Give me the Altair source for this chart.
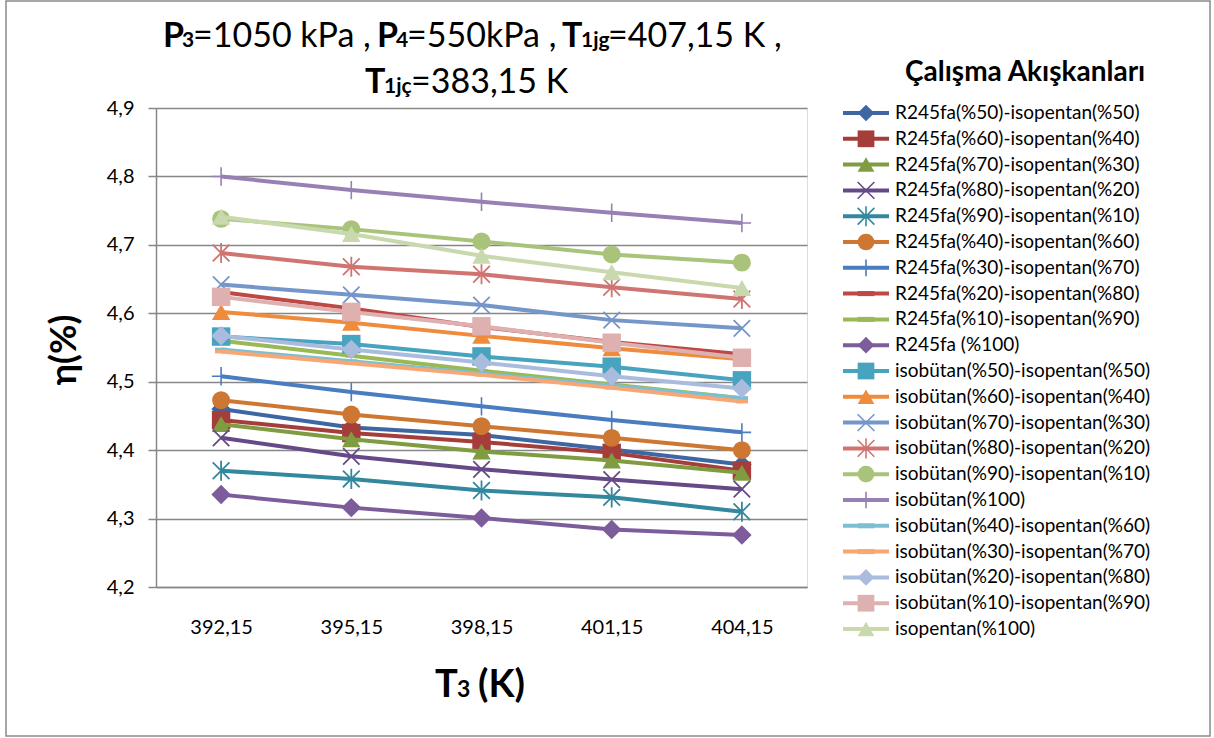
import altair as alt
import pandas as pd

# Evaporator outlet temperatures (category labels on the x axis)
T3_LABELS = ["392,15", "395,15", "398,15", "401,15", "404,15"]

# Working fluids, in legend order
FLUIDS = [
    "R245fa(%50)-isopentan(%50)",
    "R245fa(%60)-isopentan(%40)",
    "R245fa(%70)-isopentan(%30)",
    "R245fa(%80)-isopentan(%20)",
    "R245fa(%90)-isopentan(%10)",
    "R245fa(%40)-isopentan(%60)",
    "R245fa(%30)-isopentan(%70)",
    "R245fa(%20)-isopentan(%80)",
    "R245fa(%10)-isopentan(%90)",
    "R245fa (%100)",
    "isobütan(%50)-isopentan(%50)",
    "isobütan(%60)-isopentan(%40)",
    "isobütan(%70)-isopentan(%30)",
    "isobütan(%80)-isopentan(%20)",
    "isobütan(%90)-isopentan(%10)",
    "isobütan(%100)",
    "isobütan(%40)-isopentan(%60)",
    "isobütan(%30)-isopentan(%70)",
    "isobütan(%20)-isopentan(%80)",
    "isobütan(%10)-isopentan(%90)",
    "isopentan(%100)",
]

# Efficiency η (%) for each fluid at the five temperatures
ETA = [
    [4.460, 4.433, 4.422, 4.401, 4.379],
    [4.444, 4.425, 4.412, 4.396, 4.370],
    [4.438, 4.416, 4.398, 4.385, 4.367],
    [4.418, 4.391, 4.372, 4.357, 4.343],
    [4.370, 4.358, 4.341, 4.331, 4.310],
    [4.473, 4.452, 4.435, 4.418, 4.400],
    [4.508, 4.485, 4.464, 4.444, 4.426],
    [4.631, 4.607, 4.580, 4.558, 4.540],
    [4.560, 4.538, 4.516, 4.496, 4.476],
    [4.335, 4.316, 4.301, 4.284, 4.276],
    [4.566, 4.555, 4.537, 4.522, 4.502],
    [4.602, 4.586, 4.567, 4.549, 4.533],
    [4.642, 4.627, 4.612, 4.590, 4.578],
    [4.688, 4.668, 4.657, 4.638, 4.621],
    [4.738, 4.723, 4.705, 4.686, 4.674],
    [4.800, 4.780, 4.763, 4.747, 4.732],
    [4.547, 4.530, 4.512, 4.494, 4.476],
    [4.544, 4.527, 4.510, 4.491, 4.471],
    [4.567, 4.547, 4.528, 4.508, 4.490],
    [4.624, 4.602, 4.581, 4.557, 4.535],
    [4.741, 4.716, 4.684, 4.660, 4.637],
]

COLORS = [
    "#3d66a3", "#a53d3a", "#7f9c41", "#664a87", "#33889e", "#cd7733", "#4a7cc0",
    "#bd4845", "#98b954", "#7d5c9c", "#48a3be", "#ef8b3d", "#7596c8", "#d07472",
    "#a9c47a", "#9780b3", "#7cbfd2", "#f8a673", "#aabcdd", "#deb1b0", "#c9d9ae",
]

MARKERS = [
    "diamond", "square", "triangle", "x", "asterisk", "circle", "plus", "dash",
    "dash", "diamond", "square", "triangle", "x", "asterisk", "circle", "plus",
    "dash", "dash", "diamond", "square", "triangle",
]

# marker style: (vega shape, filled, size, stroke width)
MARKER_STYLE = {
    "diamond": ("diamond", True, 380, 0),
    "square": ("square", True, 340, 0),
    "triangle": ("triangle-up", True, 340, 0),
    "circle": ("circle", True, 320, 0),
    "x": ("M-1,-1L1,1M-1,1L1,-1", False, 270, 1.8),
    "asterisk": ("M-1,-1L1,1M-1,1L1,-1M0,-1.2L0,1.2", False, 280, 1.8),
    "plus": ("M0,-1L0,1M-1,0L1,0", False, 340, 1.6),
    "dash": ("M-1,-0.3L1,-0.3L1,0.3L-1,0.3Z", True, 150, 0),
}

FONT = "Lato"
GRID = "#878787"
W, H = 651, 479

rows = []
for i, name in enumerate(FLUIDS):
    for t, v in zip(T3_LABELS, ETA[i]):
        rows.append({"fluid": name, "T3": t, "eta": v})
df = pd.DataFrame(rows)

x_enc = alt.X(
    "T3:N", sort=T3_LABELS,
    scale=alt.Scale(type="point", padding=0.5),
    axis=alt.Axis(title=None, ticks=False, labelAngle=0, labelPadding=30,
                  labelFont=FONT, labelFontSize=20, labelColor="#000",
                  domainColor=GRID, domainWidth=1.5, grid=False),
)
y_enc = alt.Y(
    "eta:Q",
    scale=alt.Scale(domain=[4.2, 4.9], nice=False, zero=False),
    axis=alt.Axis(title=None, values=[4.2, 4.3, 4.4, 4.5, 4.6, 4.7, 4.8, 4.9],
                  labelExpr="replace(format(datum.value, '.1f'), '.', ',')",
                  labelFont=FONT, labelFontSize=20, labelColor="#000", labelPadding=14,
                  tickSize=8, tickColor=GRID, tickWidth=1.5,
                  domainColor=GRID, domainWidth=1.5,
                  grid=True, gridColor=GRID, gridWidth=1.5),
)

plot_layers = []
for i, name in enumerate(FLUIDS):
    base = alt.Chart(df).transform_filter(alt.datum.fluid == name)
    plot_layers.append(
        base.mark_line(color=COLORS[i], strokeWidth=4).encode(x=x_enc, y=y_enc)
    )
    shape, filled, size, sw = MARKER_STYLE[MARKERS[i]]
    plot_layers.append(
        base.mark_point(shape=shape, filled=filled, size=size, color=COLORS[i],
                        strokeWidth=sw, opacity=1).encode(x=x_enc, y=y_enc)
    )
plot = alt.layer(*plot_layers)

# Legend: one row per fluid, line sample + marker + name
leg_df = pd.DataFrame({
    "fluid": FLUIDS,
    "marker": MARKERS,
    "filled": [MARKER_STYLE[m][1] for m in MARKERS],
})
leg_y = alt.Y("fluid:N", sort=FLUIDS,
              scale=alt.Scale(type="point", range=[5, 521], padding=0), axis=None)
leg_color = alt.Color("fluid:N", sort=FLUIDS,
                      scale=alt.Scale(domain=FLUIDS, range=COLORS), legend=None)
shape_domain = list(MARKER_STYLE.keys())
shape_range = [MARKER_STYLE[k][0] for k in shape_domain]
leg_shape = alt.Shape("marker:N", scale=alt.Scale(domain=shape_domain, range=shape_range),
                      legend=None)

leg_base = alt.Chart(leg_df)
leg_lines = leg_base.mark_rule(strokeWidth=4).encode(
    x=alt.value(687), x2=alt.value(733), y=leg_y, color=leg_color)
leg_filled = leg_base.transform_filter(alt.datum.filled == True).mark_point(
    filled=True, size=280, opacity=1).encode(
    x=alt.value(710), y=leg_y, color=leg_color, shape=leg_shape)
leg_open = leg_base.transform_filter(alt.datum.filled == False).mark_point(
    filled=False, size=280, strokeWidth=1.6, opacity=1).encode(
    x=alt.value(710), y=leg_y, color=leg_color, shape=leg_shape)
leg_text = leg_base.mark_text(align="left", baseline="middle", font=FONT,
                              fontSize=19, color="#000").encode(
    x=alt.value(739), y=leg_y, text="fluid:N")
legend = alt.layer(leg_lines, leg_filled, leg_open, leg_text)

# Title, axis titles and legend heading, built from styled text runs
runs = pd.DataFrame([
    # text, x, y, size, weight
    ("P", 7, -61, 34, "bold"),
    ("3", 26, -61, 21, "bold"),
    ("=1050 kPa , ", 37, -61, 34, "normal"),
    ("P", 221, -61, 34, "bold"),
    ("4", 240, -61, 21, "bold"),
    ("=550kPa , ", 251, -61, 34, "normal"),
    ("T", 406, -61, 34, "bold"),
    ("1jg", 425, -61, 21, "bold"),
    ("=407,15 K ,", 452, -61, 34, "normal"),
    ("T", 209, -15, 34, "bold"),
    ("1jç", 228, -15, 21, "bold"),
    ("=383,15 K", 255, -15, 34, "normal"),
    ("T", 279, 589, 38, "bold"),
    ("3", 301, 589, 23, "bold"),
    ("(K)", 322, 589, 38, "bold"),
], columns=["text", "px", "py", "size", "weight"])

text_layers = []
for _, r in runs.iterrows():
    text_layers.append(
        alt.Chart(pd.DataFrame({"text": [r["text"]]})).mark_text(
            align="left", baseline="alphabetic", font=FONT,
            fontSize=int(r["size"]), fontWeight=r["weight"], color="#000",
        ).encode(x=alt.value(int(r["px"])), y=alt.value(int(r["py"])), text="text:N")
    )

y_title = alt.Chart(pd.DataFrame({"text": ["η(%)"]})).mark_text(
    align="center", baseline="middle", angle=270, font=FONT, fontSize=36,
    fontWeight="bold", color="#000",
).encode(x=alt.value(-91), y=alt.value(242), text="text:N")

legend_title = alt.Chart(pd.DataFrame({"text": ["Çalışma Akışkanları"]})).mark_text(
    align="left", baseline="alphabetic", font=FONT,
    fontSize=28, fontWeight="bold", color="#000",
).encode(x=alt.value(749), y=alt.value(-27), text="text:N")

frame = alt.Chart(pd.DataFrame({"k": [0]})).mark_rect(
    fill="white", fillOpacity=0, stroke="#8a8a8a", strokeWidth=1.5,
).encode(x=alt.value(-150), x2=alt.value(1054), y=alt.value(-107), y2=alt.value(628))

decor = alt.layer(frame, y_title, legend_title, *text_layers)

chart = alt.layer(plot, legend, decor).resolve_scale(
    y="independent", x="independent"
).properties(
    width=W, height=H,
    autosize=alt.AutoSizeParams(type="none"),
    padding={"left": 156, "top": 108, "right": 1214 - 156 - W, "bottom": 738 - 108 - H},
).configure_view(stroke=None).configure(background="white")

chart.save("out.html", embed_options={"renderer": "svg", "actions": False})
